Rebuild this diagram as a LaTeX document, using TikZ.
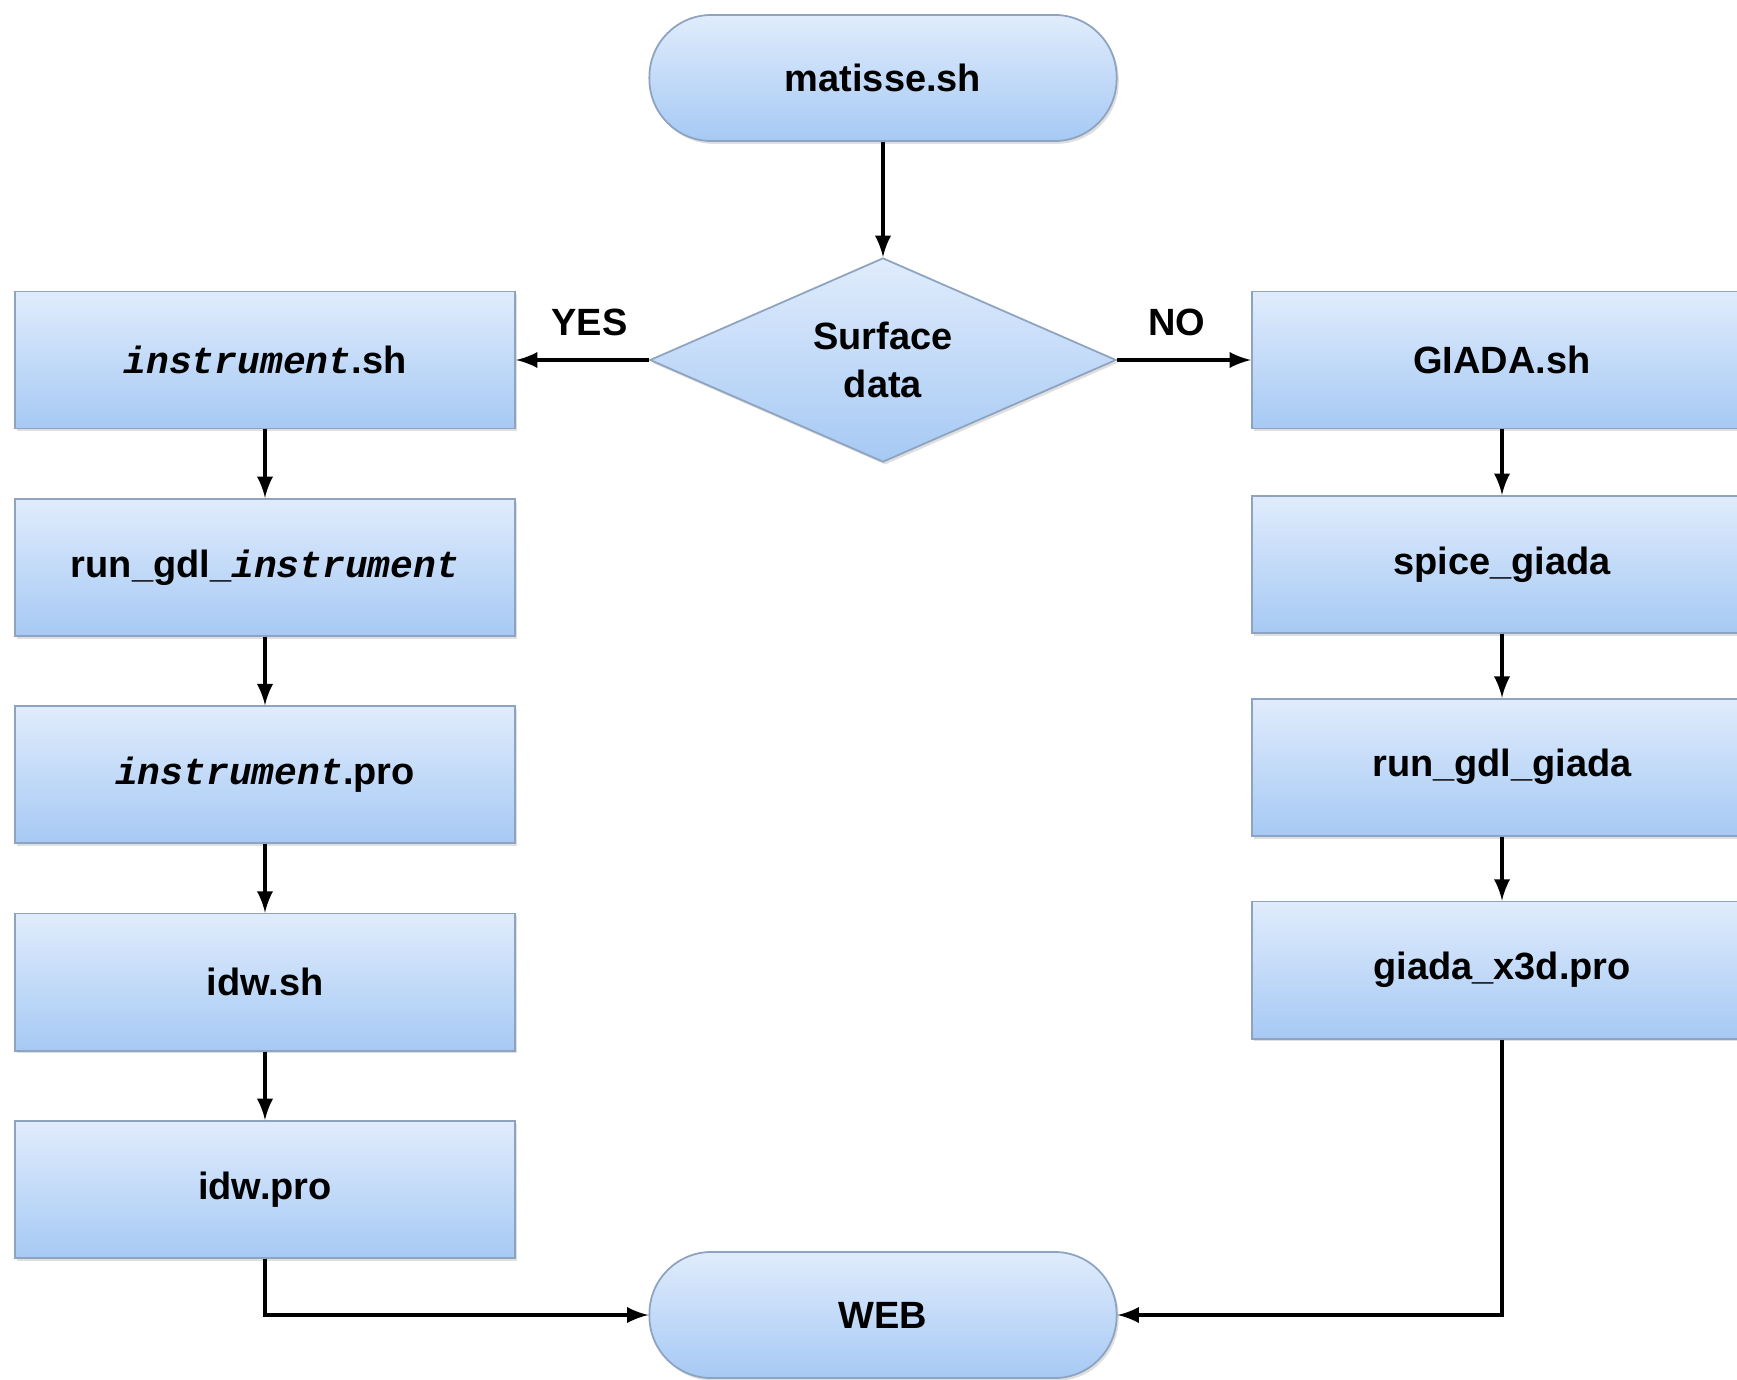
\documentclass[tikz,border=0pt]{standalone}
\usepackage{fontspec}
\setmainfont{Liberation Sans}
\newfontfamily\codefont{Liberation Mono}
\usetikzlibrary{positioning,shapes.geometric,shadows}
\definecolor{boxtop}{HTML}{E0ECFC}
\definecolor{boxbot}{HTML}{A6C9F4}
\definecolor{boxline}{HTML}{8DA3C0}
\newcommand{\instr}{{\codefont\bfseries\itshape instrument}}

\begin{document}
\begin{tikzpicture}
[
  x = 0.01cm, y = -0.01cm,
  font = \fontsize{10.8}{13.5}\selectfont\bfseries,
  base/.style     = {draw=boxline, line width=0.5pt,
                     top color=boxtop, bottom color=boxbot,
                     drop shadow={opacity=0.25, shadow xshift=0.6pt, shadow yshift=-0.8pt}},
  proc/.style     = {base, shape=rectangle, minimum width=5cm, minimum height=1.37cm},
  term/.style     = {base, shape=rectangle, rounded corners=0.62cm,
                     minimum width=4.67cm, minimum height=1.26cm},
  decision/.style = {base, shape=diamond, align=center, inner sep=0pt, aspect=2.3,
                     minimum width=4.66cm, minimum height=2.04cm},
  arrow/.style    = {draw, line width=1.1pt, -latex}
]
\useasboundingbox (0,0) rectangle (1737,1379);
\clip (0,0) rectangle (1737,1379);

% start and decision
\node [term] (matisse) at (883,78) {matisse.sh};
\node [decision] (surface) at (883,360) {Surface\\data};

% surface data branch
\node [proc] (instsh) at (265,360) {\instr.sh};
\node [proc, below=0.685cm of instsh] (rungdlinstr) {run\_gdl\_\instr};
\node [proc, below=0.685cm of rungdlinstr] (instpro) {\instr.pro};
\node [proc, below=0.685cm of instpro] (idwsh) {idw.sh};
\node [proc, below=0.685cm of idwsh] (idwpro) {idw.pro};

% GIADA branch
\node [proc] (giadash) at (1502,360) {GIADA.sh};
\node [proc, below=0.655cm of giadash] (spicegiada) {spice\_giada};
\node [proc, below=0.64cm of spicegiada] (rungdlgiada) {run\_gdl\_giada};
\node [proc, below=0.64cm of rungdlgiada] (giadapro) {giada\_x3d.pro};

% end
\node [term] (web) at (883,1315) {WEB};

\draw [arrow] (matisse) -- (surface);
\draw [arrow] (surface) -- node [above=3pt, xshift=2pt] {YES} (instsh);
\draw [arrow] (surface) -- node [above=3pt, xshift=-2pt] {NO} (giadash);

\draw [arrow] (instsh) -- (rungdlinstr);
\draw [arrow] (rungdlinstr) -- (instpro);
\draw [arrow] (instpro) -- (idwsh);
\draw [arrow] (idwsh) -- (idwpro);
\draw [arrow] (idwpro) |- (web);

\draw [arrow] (giadash) -- (spicegiada);
\draw [arrow] (spicegiada) -- (rungdlgiada);
\draw [arrow] (rungdlgiada) -- (giadapro);
\draw [arrow] (giadapro) |- (web);
\end{tikzpicture}
\end{document}
